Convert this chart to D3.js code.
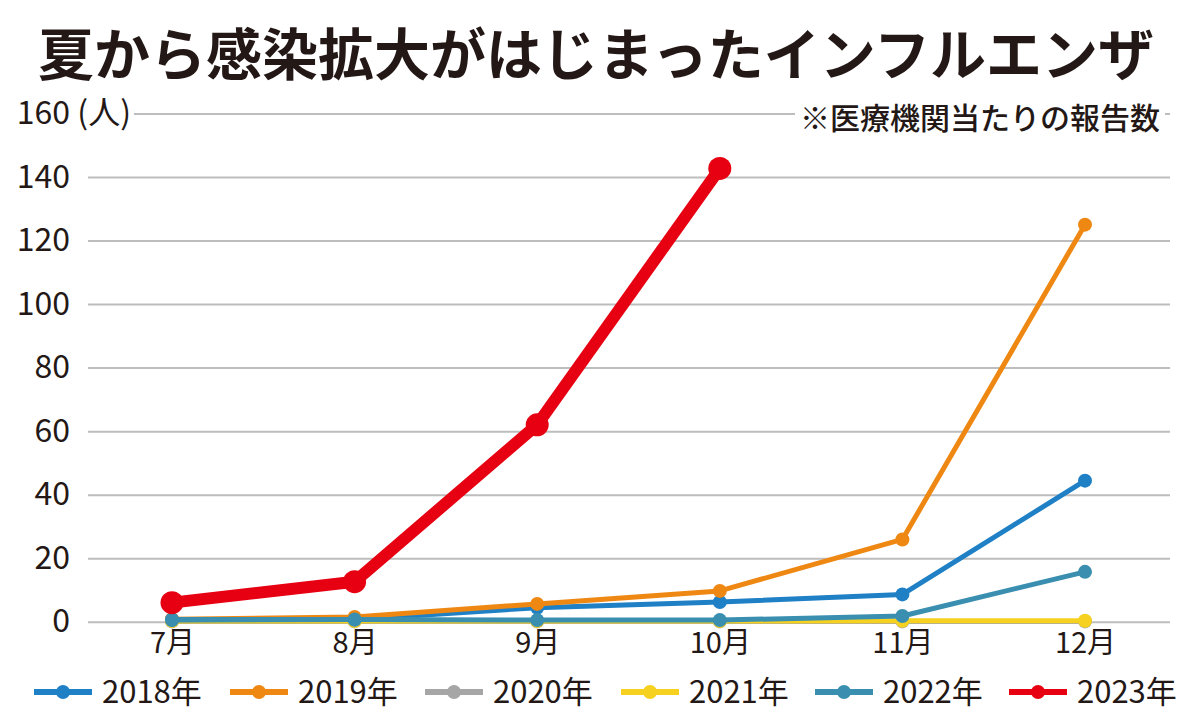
<!DOCTYPE html>
<html>
<head>
<meta charset="utf-8">
<script src="https://cdn.jsdelivr.net/npm/d3@7"></script>
<style>
  body { margin: 0; background: #fff; }
  svg text { font-family: "Noto Sans CJK JP", "Noto Sans", sans-serif; fill: #231815; }
</style>
</head>
<body>
<div id="chart"></div>
<script>
// Data
const months = ["7月", "8月", "9月", "10月", "11月", "12月"];
const yTicks = [0, 20, 40, 60, 80, 100, 120, 140, 160];
const seriesNames = ["2018年", "2019年", "2020年", "2021年", "2022年", "2023年"];
const seriesColors = ["#1f80c6", "#ee8813", "#a6a6a6", "#f6d120", "#3a8fb0", "#e60012"];
const values2018 = [0.5, 0.7, 4.4, 6.2, 8.6, 44.4];
const values2019 = [0.8, 1.5, 5.6, 9.7, 25.9, 125];
const values2020 = [0.1, 0.1, 0.1, 0.1, 0.1, 0.1];
const values2021 = [0.2, 0.2, 0.2, 0.2, 0.3, 0.3];
const values2022 = [0.7, 0.7, 0.5, 0.5, 1.8, 15.7];
const values2023 = [6.0, 12.6, 62, 142.7];
const seriesValues = [values2018, values2019, values2020, values2021, values2022, values2023];

const createLineChart = () => {
    const viewW = 1200;
    const viewH = 713;

    const svg = d3.select("#chart")
        .append("svg")
        .attr("width", viewW)
        .attr("height", viewH)
        .attr("viewBox", `0 0 ${viewW} ${viewH}`);

    // Scales
    const gridLeft = 88;
    const gridRight = 1170;
    const xScale = d3.scalePoint().domain(months).range([172, 1085]);
    const yScale = d3.scaleLinear().domain([0, 160]).range([621.7, 113.5]);

    // Title
    svg.append("text")
        .attr("x", 38)
        .attr("y", 75)
        .attr("font-size", 56)
        .attr("font-weight", 700)
        .text("夏から感染拡大がはじまったインフルエンザ");

    // Y axis with gridlines
    const yAxis = d3.axisLeft(yScale)
        .tickValues(yTicks)
        .tickSize(-(gridRight - gridLeft))
        .tickPadding(18);

    const yG = svg.append("g")
        .attr("transform", `translate(${gridLeft},0)`)
        .call(yAxis);
    yG.select(".domain").remove();
    yG.selectAll(".tick line")
        .attr("stroke", "#bdbdbd")
        .attr("stroke-width", 2);
    yG.selectAll(".tick text")
        .attr("font-size", 32)
        .attr("fill", "#231815")
        .attr("font-family", "'Noto Sans CJK JP', sans-serif");
    // top tick: unit label after number, shorter gridline
    const topTick = yG.selectAll(".tick").filter(d => d === 160);
    topTick.select("line").attr("x1", 46);
    topTick.append("text")
        .attr("x", 43)
        .attr("dy", "0.32em")
        .attr("font-size", 32)
        .attr("text-anchor", "end")
        .attr("fill", "#231815")
        .text("(人)");

    // Note with white backing
    svg.append("rect")
        .attr("x", 795)
        .attr("y", 100)
        .attr("width", 370)
        .attr("height", 36)
        .attr("fill", "#fff");
    svg.append("text")
        .attr("x", 1160)
        .attr("y", 129)
        .attr("font-size", 30)
        .attr("font-weight", 500)
        .attr("text-anchor", "end")
        .text("※医療機関当たりの報告数");

    // X axis labels
    const xAxis = d3.axisBottom(xScale).tickSize(0).tickPadding(0);
    const xG = svg.append("g")
        .attr("transform", "translate(0,632)")
        .call(xAxis);
    xG.select(".domain").remove();
    xG.selectAll(".tick text")
        .attr("font-size", 29)
        .attr("fill", "#231815")
        .attr("font-family", "'Noto Sans CJK JP', sans-serif");

    // Lines
    const line = d3.line()
        .x((d, i) => xScale(months[i]))
        .y(d => yScale(d));

    const drawOrder = [2, 3, 0, 1, 4, 5];
    drawOrder.forEach(k => {
        const vals = seriesValues[k];
        const isMain = k === 5;
        const g = svg.append("g");
        g.append("path")
            .datum(vals)
            .attr("d", line)
            .attr("fill", "none")
            .attr("stroke", seriesColors[k])
            .attr("stroke-width", isMain ? 12 : 5)
            .attr("stroke-linejoin", "round");
        g.selectAll("circle")
            .data(vals)
            .join("circle")
            .attr("cx", (d, i) => xScale(months[i]))
            .attr("cy", d => yScale(d))
            .attr("r", isMain ? 11.5 : 7)
            .attr("fill", seriesColors[k]);
    });

    // Legend
    const legendX = [34, 230, 425, 621, 815, 1009];
    const legendY = 692;
    const legend = svg.append("g");
    seriesNames.forEach((name, k) => {
        const x0 = legendX[k];
        legend.append("line")
            .attr("x1", x0)
            .attr("x2", x0 + 58)
            .attr("y1", legendY)
            .attr("y2", legendY)
            .attr("stroke", seriesColors[k])
            .attr("stroke-width", 6);
        legend.append("circle")
            .attr("cx", x0 + 29)
            .attr("cy", legendY)
            .attr("r", 7)
            .attr("fill", seriesColors[k]);
        legend.append("text")
            .attr("x", x0 + 68)
            .attr("y", legendY + 11)
            .attr("font-size", 31)
            .text(name);
    });
};

createLineChart();
</script>
</body>
</html>
